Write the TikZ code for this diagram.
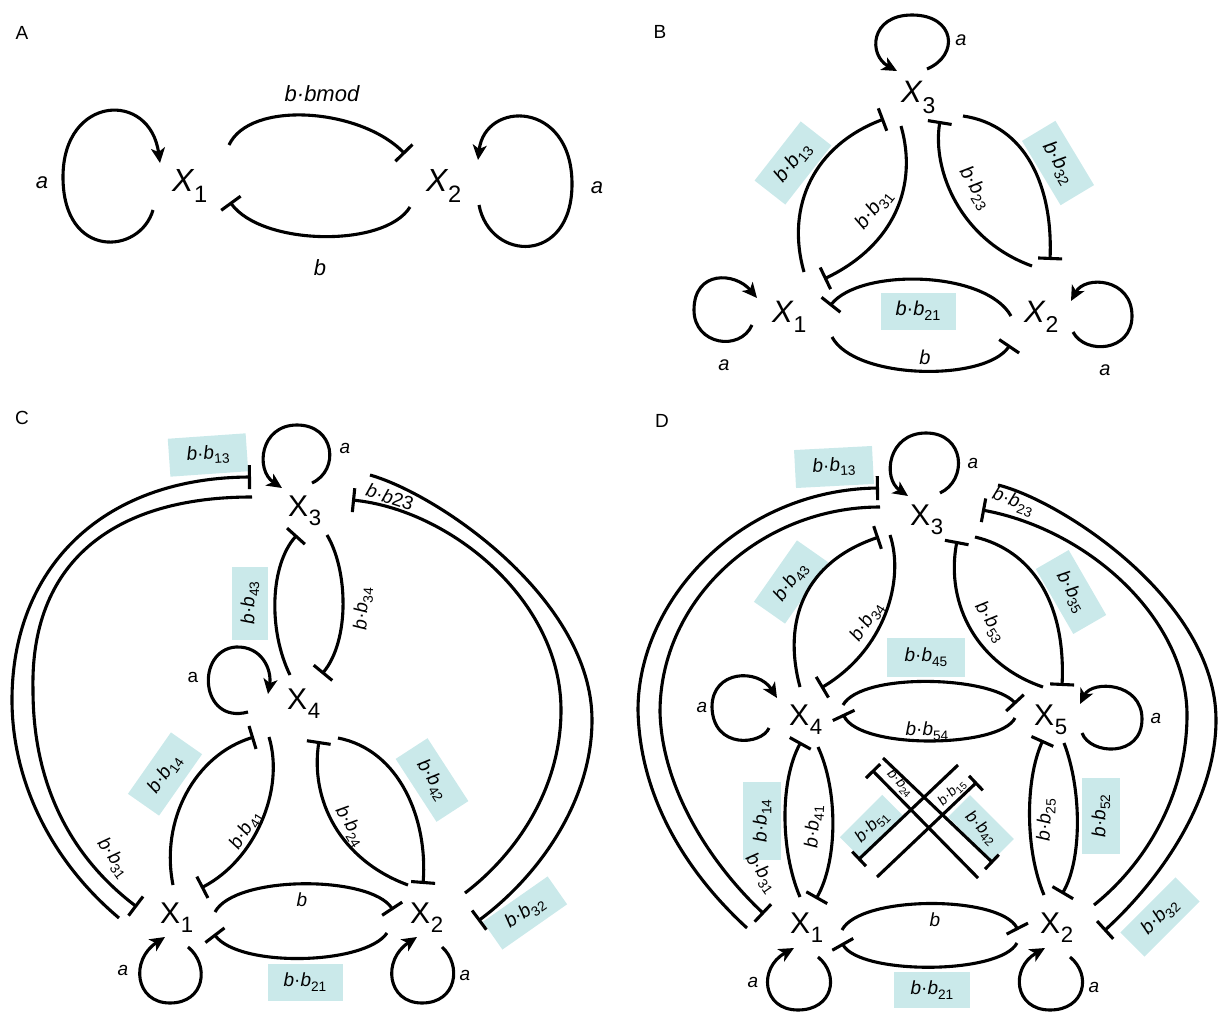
\documentclass[tikz,border=0pt]{standalone}
\usepackage{fontspec}
\setmainfont{Liberation Sans}
\usepackage{graphicx}
\usetikzlibrary{arrows.meta}
\definecolor{boxc}{RGB}{202,233,234}
\newcommand\sbs[1]{\raisebox{-0.25em}{\scalebox{0.72}{\upshape #1}}}
\newcommand\xsb[1]{\kern0.02em\raisebox{-0.33em}{\scalebox{0.74}{\upshape #1}}}
\newcommand\bbl[1]{\textit{b}·\textit{b}\sbs{#1}}
\begin{document}
\begin{tikzpicture}[x=1pt,y=-1pt,
  inh/.style={line width=3.1pt,-{Bar[width=24pt]}},
  inhs/.style={line width=3.1pt,-{Bar[width=20pt]}},
  act/.style={line width=3.1pt,-{Stealth[length=15pt,width=14pt,inset=4pt]}},
  plab/.style={font=\fontsize{19}{19}\selectfont, inner sep=0},
  xA/.style={font=\fontsize{32}{32}\selectfont\itshape, inner sep=0, anchor=base west},
  xB/.style={font=\fontsize{31}{31}\selectfont\itshape, inner sep=0, anchor=base west},
  xC/.style={font=\fontsize{30}{30}\selectfont, inner sep=0, anchor=base west},
  lA/.style={font=\fontsize{22}{22}\selectfont\itshape, inner sep=0},
  lB/.style={font=\fontsize{20}{20}\selectfont, inner sep=0},
  lC/.style={font=\fontsize{19}{19}\selectfont, inner sep=0},
  sm/.style={font=\fontsize{14}{14}\selectfont, inner sep=0},
  bx/.style={fill=boxc, inner sep=0, minimum width=76pt, minimum height=37pt}]
\useasboundingbox (0,0) rectangle (1219,1014);

%================ Panel A
\node[plab] (pA) at (22,33) {A};
\node[xA] (A1) at (172,192) {X\xsb{1}};
\node[xA] (A2) at (426,192) {X\xsb{2}};
\coordinate (A1ls) at (153,210); \coordinate (A1le) at (160,163);
\coordinate (A2ls) at (479,205); \coordinate (A2le) at (478,160);
\coordinate (A12s) at (229,145); \coordinate (A12e) at (405,154);
\coordinate (A21s) at (410,207); \coordinate (A21e) at (230,202);
\draw[act] (A1ls) .. controls (140,255) and (63,260) .. (63,177) .. controls (63,95) and (150,90) .. (A1le);
\draw[act] (A2ls) .. controls (490,262) and (572,265) .. (572,184) .. controls (572,100) and (485,100) .. (A2le);
\draw[inh] (A12s) .. controls (250,100) and (360,108) .. (A12e);
\draw[inh] (A21s) .. controls (385,248) and (262,246) .. (A21e);
\node[lA] (Abm) at (322,94) {b·bmod};
\node[lA] (Ab) at (320,268) {b};
\node[lA] (Aa1) at (42,183) {a};
\node[lA] (Aa2) at (597,188) {a};

%================ Panel B
\node[plab] (pB) at (660,32) {B};
\node[bx, rotate=52, minimum width=75pt, minimum height=39pt, font=\fontsize{20}{20}\selectfont] (Bb13) at (793,163) {\bbl{13}};
\node[bx, rotate=-59, minimum width=75pt, minimum height=39pt, font=\fontsize{20}{20}\selectfont] (Bb32) at (1058,163) {\bbl{32}};
\node[bx, minimum width=75pt, minimum height=37pt, font=\fontsize{20}{20}\selectfont] (Bb21) at (918,311) {\bbl{21}};
\node[xB] (B1) at (772,322) {X\xsb{1}};
\node[xB] (B2) at (1024,322) {X\xsb{2}};
\node[xB] (B3) at (901,103) {X\xsb{3}};
\coordinate (B3ls) at (927,69); \coordinate (B3le) at (897,71);
\coordinate (B1ls) at (752,325); \coordinate (B1le) at (757,298);
\coordinate (B2ls) at (1073,332); \coordinate (B2le) at (1071,301);
\draw[act] (B3ls) .. controls (960,55) and (955,15) .. (912,15) .. controls (870,15) and (868,55) .. (B3le);
\draw[act] (B1ls) .. controls (740,352) and (694,345) .. (694,310) .. controls (694,270) and (735,272) .. (B1le);
\draw[act] (B2ls) .. controls (1085,355) and (1132,352) .. (1132,316) .. controls (1132,278) and (1085,275) .. (B2le);
\coordinate (B13s) at (804,272); \coordinate (B13e) at (884,119);
\coordinate (B31s) at (901,126); \coordinate (B31e) at (824,279);
\coordinate (B23s) at (1032,266); \coordinate (B23e) at (940,121);
\coordinate (B32s) at (963,116); \coordinate (B32e) at (1050,260);
\coordinate (B21s) at (1011,316); \coordinate (B21e) at (830,306);
\coordinate (B12s) at (832,337); \coordinate (B12e) at (1010,345);
\draw[inh] (B13s) .. controls (785,205) and (815,145) .. (B13e);
\draw[inh] (B31s) .. controls (918,185) and (895,245) .. (B31e);
\draw[inh] (B23s) .. controls (960,240) and (932,170) .. (B23e);
\draw[inh] (B32s) .. controls (1025,125) and (1053,185) .. (B32e);
\draw[inh] (B21s) .. controls (985,270) and (860,268) .. (B21e);
\draw[inh] (B12s) .. controls (855,380) and (985,382) .. (B12e);
\node[lB, rotate=52] (Bl31) at (874,210) {\bbl{31}};
\node[lB, rotate=-58] (Bl23) at (975,188) {\bbl{23}};
\node[lB] (Blb) at (925,357) {\textit{b}};
\node[lB] (Ba3) at (961,40) {\textit{a}};
\node[lB] (Ba1) at (724,365) {\textit{a}};
\node[lB] (Ba2) at (1105,370) {\textit{a}};

%================ Panel C
\node[plab] (pC) at (22,418) {C};
\node[bx, rotate=4, minimum width=78pt, minimum height=38pt, font=\fontsize{19}{19}\selectfont] (Cb13) at (208,455) {\bbl{13}};
\node[bx, rotate=90, minimum width=73pt, minimum height=36pt, font=\fontsize{19}{19}\selectfont] (Cb43) at (250,603) {\bbl{43}};
\node[bx, rotate=55, minimum width=75pt, minimum height=38pt, font=\fontsize{19}{19}\selectfont] (Cb14) at (165,774) {\bbl{14}};
\node[bx, rotate=-57, minimum width=75pt, minimum height=38pt, font=\fontsize{19}{19}\selectfont] (Cb42) at (432,780) {\bbl{42}};
\node[bx, minimum width=75pt, minimum height=37pt, font=\fontsize{19}{19}\selectfont] (Cb21) at (305,982) {\bbl{21}};
\node[bx, rotate=35, minimum width=79pt, minimum height=34pt, font=\fontsize{19}{19}\selectfont] (Cb32) at (525,913) {\bbl{32}};
\node[xC] (C3) at (288,516) {X\xsb{3}};
\node[xC] (C4) at (287,709) {X\xsb{4}};
\node[xC] (C1) at (160,923) {X\xsb{1}};
\node[xC] (C2) at (410,923) {X\xsb{2}};
\coordinate (C3ls) at (312,483); \coordinate (C3le) at (282,488);
\coordinate (C4ls) at (248,712); \coordinate (C4le) at (268,694);
\coordinate (C1ls) at (188,947); \coordinate (C1le) at (165,937);
\coordinate (C2ls) at (442,947); \coordinate (C2le) at (417,937);
\draw[act] (C3ls) .. controls (340,470) and (335,425) .. (297,425) .. controls (260,425) and (255,470) .. (C3le);
\draw[act] (C4ls) .. controls (200,725) and (195,650) .. (236,647) .. controls (262,646) and (272,670) .. (C4le);
\draw[act] (C1ls) .. controls (210,965) and (205,1003) .. (170,1003) .. controls (135,1003) and (130,960) .. (C1le);
\draw[act] (C2ls) .. controls (462,965) and (457,1003) .. (422,1003) .. controls (387,1003) and (382,960) .. (C2le);
\coordinate (C43s) at (290,675); \coordinate (C43e) at (297,535);
\coordinate (C34s) at (327,535); \coordinate (C34e) at (322,674);
\coordinate (C14s) at (173,885); \coordinate (C14e) at (254,737);
\coordinate (C41s) at (269,737); \coordinate (C41e) at (201,888);
\coordinate (C24s) at (408,885); \coordinate (C24e) at (319,741);
\coordinate (C42s) at (338,738); \coordinate (C42e) at (423,884);
\coordinate (C12s) at (215,912); \coordinate (C12e) at (393,910);
\coordinate (C21s) at (387,933); \coordinate (C21e) at (214,934);
\coordinate (C13s) at (119,918); \coordinate (C13e) at (251,477);
\coordinate (C31s) at (252,497); \coordinate (C31e) at (137,907);
\coordinate (C32s) at (370,475); \coordinate (C32e) at (478,921);
\coordinate (C23s) at (465,893); \coordinate (C23e) at (352,500);
\draw[inh] (C43s) .. controls (268,630) and (270,565) .. (C43e);
\draw[inh] (C34s) .. controls (348,570) and (350,640) .. (C34e);
\draw[inh] (C14s) .. controls (160,820) and (195,755) .. (C14e);
\draw[inh] (C41s) .. controls (285,790) and (255,860) .. (C41e);
\draw[inh] (C24s) .. controls (340,860) and (310,800) .. (C24e);
\draw[inh] (C42s) .. controls (400,750) and (428,820) .. (C42e);
\draw[inh] (C12s) .. controls (235,875) and (370,875) .. (C12e);
\draw[inh] (C21s) .. controls (365,965) and (240,968) .. (C21e);
\draw[inh] (C13s) .. controls (50,860) and (12,780) .. (12,700) .. controls (12,570) and (100,478) .. (C13e);
\draw[inh] (C31s) .. controls (110,497) and (30,565) .. (33,690) .. controls (33,790) and (75,860) .. (C31e);
\draw[inh] (C32s) .. controls (440,495) and (592,600) .. (592,720) .. controls (592,800) and (540,875) .. (C32e);
\draw[inh] (C23s) .. controls (515,855) and (561,790) .. (561,710) .. controls (561,600) and (450,510) .. (C23e);
\node[lC, rotate=87] (Cl34) at (363,609) {\bbl{34}};
\node[lC, rotate=58] (Cl41) at (246,830) {\bbl{41}};
\node[lC, rotate=-59] (Cl24) at (350,826) {\bbl{24}};
\node[lC, rotate=-54] (Cl31) at (113,858) {\bbl{31}};
\node[lC, rotate=-18] (Cl23) at (390,497) {\textit{b}·\textit{b}23};
\node[lC] (Clb) at (302,900) {\textit{b}};
\node[lC] (Ca3) at (345,448) {\textit{a}};
\node[lC] (Ca4) at (193,677) {a};
\node[lC] (Ca1) at (123,970) {\textit{a}};
\node[lC] (Ca2) at (465,975) {\textit{a}};

%================ Panel D
\node[plab] (pD) at (662,421) {D};
\node[bx, rotate=3, minimum width=78pt, minimum height=38pt, font=\fontsize{19}{19}\selectfont] (Db13) at (834,467) {\bbl{13}};
\node[bx, rotate=55, minimum width=75pt, minimum height=38pt, font=\fontsize{19}{19}\selectfont] (Db43) at (791,582) {\bbl{43}};
\node[bx, rotate=-60, minimum width=75pt, minimum height=38pt, font=\fontsize{19}{19}\selectfont] (Db35) at (1071,592) {\bbl{35}};
\node[bx, minimum width=78pt, minimum height=39pt, font=\fontsize{19}{19}\selectfont] (Db45) at (926,657) {\bbl{45}};
\node[bx, rotate=90, minimum width=78pt, minimum height=38pt, font=\fontsize{19}{19}\selectfont] (Db14) at (762,821) {\bbl{14}};
\node[bx, rotate=90, minimum width=76pt, minimum height=38pt, font=\fontsize{19}{19}\selectfont] (Db52) at (1101,816) {\bbl{52}};
\node[bx, rotate=45, minimum width=60pt, minimum height=31pt, font=\fontsize{17}{17}\selectfont] (Db51) at (872,827) {\bbl{51}};
\node[bx, rotate=-45, minimum width=62pt, minimum height=31pt, font=\fontsize{17}{17}\selectfont] (Db42) at (981,828) {\bbl{42}};
\node[bx, rotate=45, minimum width=78pt, minimum height=34pt, font=\fontsize{19}{19}\selectfont] (Db32) at (1160,917) {\bbl{32}};
\node[bx, minimum width=76pt, minimum height=36pt, font=\fontsize{19}{19}\selectfont] (Db21) at (932,990) {\bbl{21}};
\node[xC] (D3) at (910,525) {X\xsb{3}};
\node[xC] (D4) at (789,725) {X\xsb{4}};
\node[xC] (D5) at (1034,725) {X\xsb{5}};
\node[xC] (D1) at (790,933) {X\xsb{1}};
\node[xC] (D2) at (1040,933) {X\xsb{2}};
\coordinate (D3ls) at (940,493); \coordinate (D3le) at (908,496);
\coordinate (D4ls) at (769,728); \coordinate (D4le) at (777,698);
\coordinate (D5ls) at (1082,733); \coordinate (D5le) at (1080,704);
\coordinate (D1ls) at (818,957); \coordinate (D1le) at (794,948);
\coordinate (D2ls) at (1070,957); \coordinate (D2le) at (1045,948);
\draw[act] (D3ls) .. controls (968,480) and (965,433) .. (926,433) .. controls (888,433) and (882,478) .. (D3le);
\draw[act] (D4ls) .. controls (762,745) and (713,750) .. (712,707) .. controls (712,670) and (758,668) .. (D4le);
\draw[act] (D5ls) .. controls (1090,755) and (1142,758) .. (1142,719) .. controls (1142,682) and (1092,680) .. (D5le);
\draw[act] (D1ls) .. controls (840,975) and (833,1010) .. (798,1010) .. controls (762,1010) and (758,968) .. (D1le);
\draw[act] (D2ls) .. controls (1092,975) and (1085,1010) .. (1050,1010) .. controls (1014,1010) and (1010,968) .. (D2le);
\coordinate (D43s) at (800,687); \coordinate (D43e) at (879,537);
\coordinate (D34s) at (890,535); \coordinate (D34e) at (821,688);
\coordinate (D53s) at (1043,687); \coordinate (D53e) at (957,541);
\coordinate (D35s) at (975,537); \coordinate (D35e) at (1062,686);
\coordinate (D45s) at (843,705); \coordinate (D45e) at (1016,704);
\coordinate (D54s) at (1015,718); \coordinate (D54e) at (843,714);
\coordinate (D14s) at (800,897); \coordinate (D14e) at (801,742);
\coordinate (D41s) at (818,747); \coordinate (D41e) at (816,899);
\coordinate (D25s) at (1044,895); \coordinate (D25e) at (1043,740);
\coordinate (D52s) at (1064,743); \coordinate (D52e) at (1062,894);
\coordinate (D12s) at (842,930); \coordinate (D12e) at (1018,930);
\coordinate (D21s) at (1017,943); \coordinate (D21e) at (842,943);
\coordinate (D13s) at (747,928); \coordinate (D13e) at (879,488);
\coordinate (D31s) at (880,507); \coordinate (D31e) at (764,914);
\coordinate (D32s) at (998,485); \coordinate (D32e) at (1104,931);
\coordinate (D23s) at (1094,905); \coordinate (D23e) at (982,510);
\coordinate (D24s) at (978,878); \coordinate (D24e) at (872,770);
\coordinate (D42s) at (883,758); \coordinate (D42e) at (993,863);
\coordinate (D51s) at (958,765); \coordinate (D51e) at (858,860);
\coordinate (D15s) at (877,877); \coordinate (D15e) at (977,782);
\draw[inh] (D43s) .. controls (782,620) and (805,562) .. (D43e);
\draw[inh] (D34s) .. controls (905,580) and (885,650) .. (D34e);
\draw[inh] (D53s) .. controls (978,665) and (945,605) .. (D53e);
\draw[inh] (D35s) .. controls (1030,550) and (1066,600) .. (D35e);
\draw[inh] (D45s) .. controls (862,672) and (990,676) .. (D45e);
\draw[inh] (D54s) .. controls (1000,748) and (860,750) .. (D54e);
\draw[inh] (D14s) .. controls (780,850) and (780,780) .. (D14e);
\draw[inh] (D41s) .. controls (838,790) and (838,860) .. (D41e);
\draw[inh] (D25s) .. controls (1025,850) and (1025,780) .. (D25e);
\draw[inh] (D52s) .. controls (1082,790) and (1082,860) .. (D52e);
\draw[inh] (D12s) .. controls (860,895) and (1000,895) .. (D12e);
\draw[inh] (D21s) .. controls (1000,975) and (860,975) .. (D21e);
\draw[inh] (D13s) .. controls (700,885) and (640,810) .. (638,710) .. controls (638,600) and (740,490) .. (D13e);
\draw[inh] (D31s) .. controls (760,507) and (660,600) .. (660,712) .. controls (662,790) and (712,865) .. (D31e);
\draw[inh] (D32s) .. controls (1060,500) and (1216,600) .. (1216,720) .. controls (1216,800) and (1160,880) .. (D32e);
\draw[inh] (D23s) .. controls (1150,860) and (1187,790) .. (1187,715) .. controls (1187,620) and (1090,530) .. (D23e);
\draw[inhs] (D24s) -- (D24e);
\draw[inhs] (D42s) -- (D42e);
\draw[inhs] (D51s) -- (D51e);
\draw[inhs] (D15s) -- (D15e);
\node[lC, rotate=-20] (Dl23) at (1013,502) {\bbl{23}};
\node[lC, rotate=57] (Dl34) at (867,622) {\bbl{34}};
\node[lC, rotate=-57] (Dl53) at (990,622) {\bbl{53}};
\node[lC] (Dl54) at (927,731) {\bbl{54}};
\node[lC, rotate=87] (Dl41) at (814,827) {\bbl{41}};
\node[lC, rotate=88] (Dl25) at (1046,820) {\bbl{25}};
\node[lC, rotate=-55] (Dl31) at (761,873) {\bbl{31}};
\node[sm, rotate=-45] (Dl24) at (900,783) {\bbl{24}};
\node[sm, rotate=45] (Dl15) at (952,793) {\bbl{15}};
\node[lC] (Dlb) at (935,920) {\textit{b}};
\node[lC] (Da3) at (973,463) {\textit{a}};
\node[lC] (Da4) at (702,707) {\textit{a}};
\node[lC] (Da5) at (1156,718) {\textit{a}};
\node[lC] (Da1) at (753,982) {\textit{a}};
\node[lC] (Da2) at (1094,987) {\textit{a}};
\end{tikzpicture}
\end{document}
